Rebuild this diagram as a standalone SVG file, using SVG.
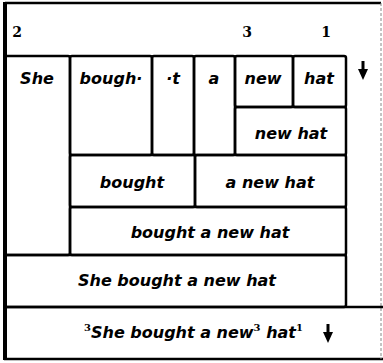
<svg xmlns="http://www.w3.org/2000/svg" width="383" height="363" viewBox="0 0 383 363">
<style>
.cell{fill:none;stroke:#000;stroke-width:2.5;}
.w{font-family:"DejaVu Sans",sans-serif;font-weight:bold;font-style:italic;font-size:16px;text-anchor:middle;fill:#000;}
.n{font-family:"DejaVu Serif",serif;font-weight:bold;font-size:14px;text-anchor:middle;fill:#000;}
.sup{font-family:"DejaVu Serif",serif;font-weight:bold;font-style:normal;font-size:10px;}
</style>
<defs>
<g id="arrow"><line x1="0" y1="0" x2="0" y2="10" stroke="#000" stroke-width="3"/><path d="M-5,8 L5,8 L0,19 Z" fill="#000"/></g>
</defs>
<rect x="0" y="0" width="383" height="363" fill="#fff"/>
<g id="frame">
<line x1="5" y1="3" x2="381" y2="3" stroke="#000" stroke-width="2.5"/>
<line x1="5" y1="2" x2="5" y2="360" stroke="#000" stroke-width="4"/>
<line x1="4" y1="359" x2="383" y2="359" stroke="#000" stroke-width="2.5"/>
<line x1="381" y1="3" x2="381" y2="359" stroke="#888" stroke-width="1" stroke-dasharray="3,2"/>
</g>
<g id="numbers">
<text class="n" x="17" y="37">2</text>
<text class="n" x="247" y="37">3</text>
<text class="n" x="326" y="37">1</text>
</g>
<g id="n-she"><rect class="cell" x="5" y="56" width="65" height="199" rx="2"/><text class="w" x="37" y="84">She</text></g>
<g id="n-bough"><rect class="cell" x="70" y="56" width="82" height="99" rx="2"/><text class="w" x="111" y="84">bough·</text></g>
<g id="n-t"><rect class="cell" x="152" y="56" width="42" height="99" rx="2"/><text class="w" x="173" y="84">·t</text></g>
<g id="n-a"><rect class="cell" x="194" y="56" width="41" height="99" rx="2"/><text class="w" x="214" y="84">a</text></g>
<g id="n-new"><rect class="cell" x="235" y="56" width="58" height="51" rx="2"/><text class="w" x="263" y="84">new</text></g>
<g id="n-hat"><rect class="cell" x="293" y="56" width="53" height="51" rx="2"/><text class="w" x="319" y="84">hat</text></g>
<g id="n-newhat"><rect class="cell" x="235" y="107" width="111" height="48" rx="2"/><text class="w" x="291" y="139">new hat</text></g>
<g id="n-bought"><rect class="cell" x="70" y="155" width="125" height="52" rx="2"/><text class="w" x="132" y="188">bought</text></g>
<g id="n-anewhat"><rect class="cell" x="195" y="155" width="151" height="52" rx="2"/><text class="w" x="270" y="188">a new hat</text></g>
<g id="n-boughtanewhat"><rect class="cell" x="70" y="207" width="276" height="48" rx="2"/><text class="w" x="210" y="238">bought a new hat</text></g>
<g id="n-sentence"><rect class="cell" x="5" y="255" width="341" height="52" rx="2"/><text class="w" x="177" y="286">She bought a new hat</text></g>
<g id="n-intonation"><line x1="5" y1="307" x2="383" y2="307" stroke="#000" stroke-width="2.5"/>
<text class="w" x="84" y="338" style="text-anchor:start"><tspan class="sup" dy="-7">3</tspan><tspan dy="7">She bought a new</tspan><tspan class="sup" dy="-7">3</tspan><tspan dy="7"> hat</tspan><tspan class="sup" dy="-7">1</tspan></text></g>
<g id="connectors">
<use href="#arrow" x="363" y="61"/>
<use href="#arrow" x="328" y="324"/>
</g>
</svg>
